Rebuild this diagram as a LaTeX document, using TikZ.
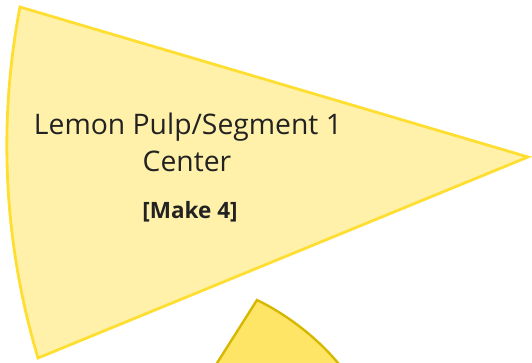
\documentclass[tikz,border=0pt]{standalone}
\usepackage{fontspec}
\setmainfont{Open Sans}
\definecolor{pulpfill}{RGB}{255,241,170}
\definecolor{pulpline}{RGB}{255,222,50}
\definecolor{segfill}{RGB}{255,229,102}
\definecolor{segline}{RGB}{214,184,0}
\definecolor{txt}{RGB}{34,34,34}
\tikzset{
  pulp/.style={fill=pulpfill, draw=pulpline, line width=2.8pt, line join=miter},
  seg/.style={fill=segfill, draw=segline, line width=2.4pt, line join=miter},
  lbl/.style={text=txt, anchor=base, inner sep=0pt},
}
\begin{document}
\begin{tikzpicture}[x=1pt,y=-1pt]
\useasboundingbox (0,0) rectangle (532,362);
% main wedge
\coordinate (apex) at (528,157);
\coordinate (tc) at (20,7);
\coordinate (bc) at (38,358);
\draw[pulp] (apex) -- (tc) .. controls (-2.4,123.8) and (3.9,244.1) .. (bc) -- cycle;
% second wedge (partially visible)
\begin{scope}
\clip (0,0) rectangle (532,362);
\coordinate (sa) at (257,300);
\coordinate (sl) at (205,382);
\coordinate (sr) at (352,382);
\draw[seg] (sl) -- (sa) .. controls (282,312) and (325,340) .. (sr);
\end{scope}
% labels
\node[lbl, font=\fontsize{28.3}{34}\selectfont] (l1) at (188,134) {Lemon Pulp/Segment 1};
\node[lbl, font=\fontsize{28.3}{34}\selectfont] (l2) at (187,171) {Center};
\node[lbl, font=\fontsize{22.5}{27}\selectfont\bfseries] (l3) at (190,218) {[Make 4]};
\end{tikzpicture}
\end{document}
